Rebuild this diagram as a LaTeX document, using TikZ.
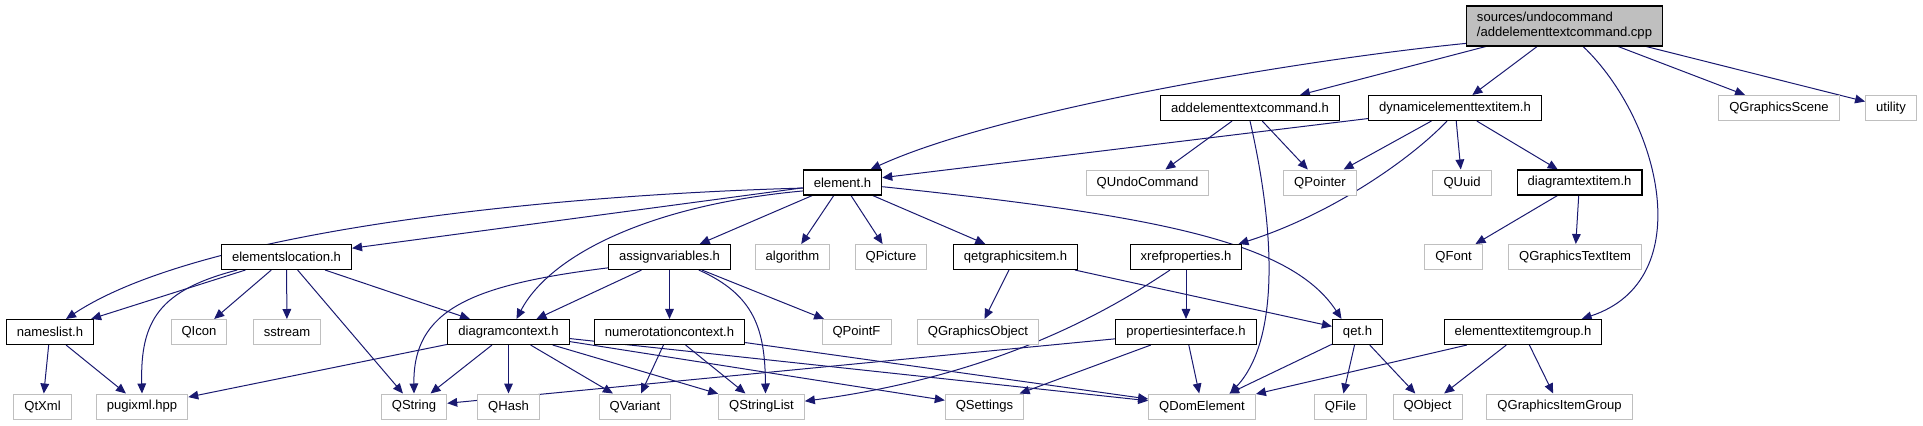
\documentclass[tikz,border=0pt]{standalone}
\usepackage{fontspec}
\setmainfont{Liberation Sans}
\usetikzlibrary{arrows.meta,backgrounds}
\definecolor{edgeblue}{RGB}{25,25,112}
\definecolor{boxgray}{RGB}{191,191,191}
\tikzset{
filebox/.style={rectangle,inner xsep=7.9pt,inner ysep=0pt,minimum height=18.75pt,
font=\fontsize{9.8}{11.25}\selectfont,text=black,fill=white},
hdr/.style={filebox,draw=black,line width=0.8pt},
ext/.style={filebox,draw=boxgray,line width=0.75pt},
src/.style={filebox,draw=black,line width=0.8pt,fill=boxgray,align=left,minimum height=30pt},
dep/.style={draw=edgeblue,line width=0.75pt,-{Triangle[length=7.5pt,width=6.5pt]}}
}

\begin{document}
\begin{tikzpicture}[x=0.75pt,y=-0.75pt]
\useasboundingbox (0,0) rectangle (1923,425);
% row 0 and 1
\node[src] (root) at (1564.5,26) {sources/undocommand\\/addelementtextcommand.cpp};
\node[hdr] (adc) at (1250,108) {addelementtextcommand.h};
\node[hdr] (dyn) at (1455,108) {dynamicelementtextitem.h};
\node[ext] (scene) at (1779,108) {QGraphicsScene};
\node[ext] (util) at (1891,108) {utility};
% row 2
\node[hdr] (elem) at (842.5,182.5) {element.h};
\node[ext] (undo) at (1147.5,182.5) {QUndoCommand};
\node[ext] (qptr) at (1320,182.5) {QPointer};
\node[ext] (quuid) at (1462,182.5) {QUuid};
\node[hdr] (dti) at (1579.5,182.5) {diagramtextitem.h};
% row 3
\node[hdr] (eloc) at (286.5,257) {elementslocation.h};
\node[hdr] (assign) at (669.5,257) {assignvariables.h};
\node[ext] (algo) at (792.5,257) {algorithm};
\node[ext] (qpic) at (891,257) {QPicture};
\node[hdr] (qgi) at (1015.5,257) {qetgraphicsitem.h};
\node[hdr] (xref) at (1186,257) {xrefproperties.h};
\node[ext] (qfont) at (1453.5,257) {QFont};
\node[ext] (qgti) at (1575,257) {QGraphicsTextItem};
% row 4
\node[hdr] (names) at (50,332) {nameslist.h};
\node[ext] (qicon) at (199,332) {QIcon};
\node[ext] (sstream) at (287,332) {sstream};
\node[hdr] (dctx) at (508.5,332) {diagramcontext.h};
\node[hdr] (numctx) at (669.5,332) {numerotationcontext.h};
\node[ext] (qpointf) at (856.5,332) {QPointF};
\node[ext] (qgo) at (978,332) {QGraphicsObject};
\node[hdr] (pint) at (1186,332) {propertiesinterface.h};
\node[hdr] (qeth) at (1357.5,332) {qet.h};
\node[hdr] (etig) at (1523,332) {elementtextitemgroup.h};
% row 5
\node[ext] (qtxml) at (42.5,406.5) {QtXml};
\node[ext] (pugi) at (142,406.5) {pugixml.hpp};
\node[ext] (qstring) at (414,406.5) {QString};
\node[ext] (qhash) at (508.5,406.5) {QHash};
\node[ext] (qvariant) at (635,406.5) {QVariant};
\node[ext] (qsl) at (761.5,406.5) {QStringList};
\node[ext] (qsettings) at (984.5,406.5) {QSettings};
\node[ext] (qdom) at (1202,406.5) {QDomElement};
\node[ext] (qfile) at (1340.5,406.5) {QFile};
\node[ext] (qobject) at (1427.5,406.5) {QObject};
\node[ext] (qgig) at (1559.5,406.5) {QGraphicsItemGroup};

\begin{scope}[on background layer]
% straight includes
\foreach \t in {adc,dyn,scene,util} \draw[dep] (root) -- (\t);
\foreach \t in {undo,qptr} \draw[dep] (adc) -- (\t);
\foreach \t in {elem,qptr,quuid,dti} \draw[dep] (dyn) -- (\t);
\foreach \t in {qfont,qgti} \draw[dep] (dti) -- (\t);
\foreach \t in {eloc,assign,algo,qpic,qgi} \draw[dep] (elem) -- (\t);
\foreach \t in {names,qicon,sstream,qstring,dctx} \draw[dep] (eloc) -- (\t);
\foreach \t in {dctx,numctx,qpointf} \draw[dep] (assign) -- (\t);
\foreach \t in {qtxml,pugi} \draw[dep] (names) -- (\t);
\foreach \t in {pugi,qstring,qhash,qvariant,qsl,qsettings,qdom} \draw[dep] (dctx) -- (\t);
\foreach \t in {qvariant,qsl,qdom} \draw[dep] (numctx) -- (\t);
\foreach \t in {qgo,qeth} \draw[dep] (qgi) -- (\t);
\draw[dep] (xref) -- (pint);
\foreach \t in {qstring,qsettings,qdom} \draw[dep] (pint) -- (\t);
\foreach \t in {qdom,qfile,qobject} \draw[dep] (qeth) -- (\t);
\foreach \t in {qdom,qobject,qgig} \draw[dep] (etig) -- (\t);
% curved includes
\draw[dep] (root.-170) .. controls (1300,60) and (1000,110) .. (elem.25);
\draw[dep] ([xshift=14pt]root.south) .. controls (1660,120) and (1700,280) .. ([xshift=44pt]etig.north);
\draw[dep] (elem.-172) .. controls (550,195) and (200,230) .. ([xshift=12pt]names.north);
\draw[dep] (elem.-168) .. controls (650,205) and (550,255) .. ([xshift=6pt]dctx.north);
\draw[dep] (elem.-6) .. controls (1150,215) and (1290,240) .. ([xshift=-12pt]qeth.north);
\draw[dep] ([xshift=-6pt]dyn.south) .. controls (1410,160) and (1330,215) .. ([xshift=-3pt]xref.north east);
\draw[dep] (adc.south) .. controls (1275,230) and (1280,340) .. ([xshift=21pt]qdom.north);
\draw[dep] ([xshift=-37pt]eloc.south) .. controls (160,290) and (140,320) .. (pugi.north);
\draw[dep] (assign.-170) .. controls (470,285) and (413,310) .. (qstring.north);
\draw[dep] ([xshift=22pt]assign.south) .. controls (755,295) and (765,330) .. ([xshift=3pt]qsl.north);
\draw[dep] ([xshift=-12pt]xref.south) .. controls (1110,310) and (1000,375) .. ([yshift=4pt]qsl.east);
\end{scope}
\end{tikzpicture}
\end{document}
